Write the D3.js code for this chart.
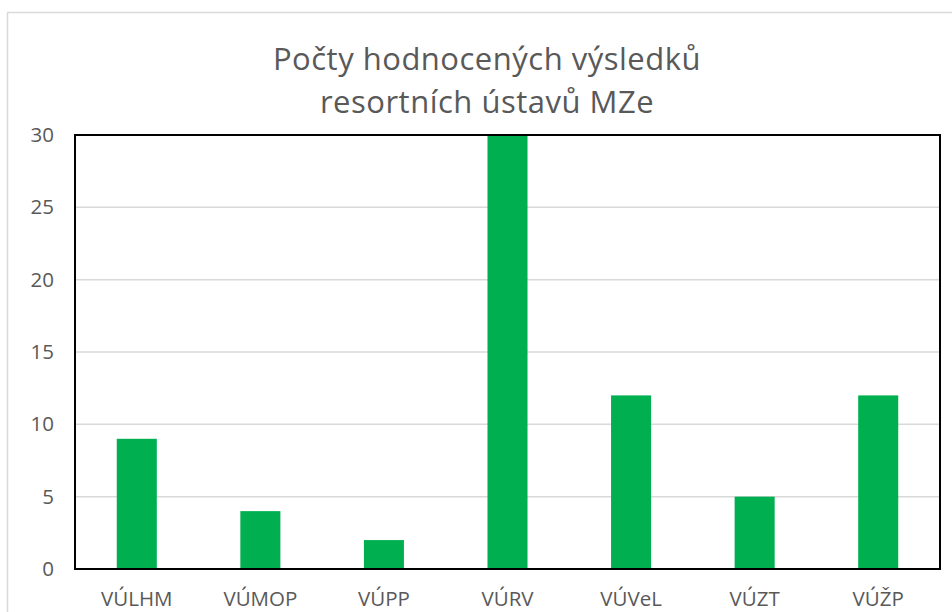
<!DOCTYPE html>
<html><head><meta charset="utf-8">
<script src="https://cdn.jsdelivr.net/npm/d3@7"></script>
<style>body{margin:0;background:#fff;} svg{display:block;} text{font-family:"Open Sans",sans-serif;}</style>
</head><body><svg id="c" width="952" height="612"></svg>
<script>
const categories = ["VÚLHM","VÚMOP","VÚPP","VÚRV","VÚVeL","VÚZT","VÚŽP"];
const values = [9,4,2,30,12,5,12];
const yTicks = [0,5,10,15,20,25,30];
const titleLines = ["Počty hodnocených výsledků","resortních ústavů MZe"];

const svg = d3.select("#c");
const W=952,H=612;
svg.append("rect").attr("x",0).attr("y",0).attr("width",W).attr("height",H).attr("fill","#fff");
// outer chart border
svg.append("rect").attr("x",7.5).attr("y",12.5).attr("width",W+20).attr("height",H+20)
  .attr("fill","#fff").attr("stroke","#d9d9d9").attr("stroke-width",1.5);

const m={l:75,r:940,t:135,b:569};
const x=d3.scaleBand().domain(categories).range([m.l,m.r]).paddingInner(0.676).paddingOuter(0.338);
const y=d3.scaleLinear().domain([0,30]).range([m.b,m.t]);

// gridlines
svg.append("g").selectAll("line").data(yTicks).join("line")
  .attr("x1",m.l).attr("x2",m.r).attr("y1",d=>y(d)).attr("y2",d=>y(d))
  .attr("stroke","#d9d9d9").attr("stroke-width",1.5);

// bars
svg.append("g").selectAll("rect").data(values).join("rect")
  .attr("x",(d,i)=>x(categories[i])).attr("width",x.bandwidth())
  .attr("y",d=>y(d)).attr("height",d=>y(0)-y(d)).attr("fill","#00B050");

// plot border
svg.append("rect").attr("x",m.l).attr("y",m.t).attr("width",m.r-m.l).attr("height",m.b-m.t)
  .attr("fill","none").attr("stroke","#000").attr("stroke-width",2);

// y axis
const ya=d3.axisLeft(y).tickValues(yTicks).tickSize(0).tickPadding(21);
const gy=svg.append("g").attr("transform",`translate(${m.l},0)`).call(ya);
gy.select(".domain").remove();
gy.selectAll("text").attr("fill","#595959").style("font-size","20.5px").style("font-family","'Open Sans',sans-serif");

// x axis
const xa=d3.axisBottom(x).tickSize(0).tickPadding(24);
const gx=svg.append("g").attr("transform",`translate(0,${m.b})`).call(xa);
gx.select(".domain").remove();
gx.selectAll("text").attr("fill","#595959").attr("dy",0).style("font-size","20.5px").style("font-family","'Open Sans',sans-serif")
  .attr("y",37);

// title
svg.append("g").selectAll("text").data(titleLines).join("text")
  .attr("x",487).attr("y",(d,i)=>70+i*43).attr("text-anchor","middle")
  .attr("fill","#595959").style("font-size","31px").style("letter-spacing","0.5px").text(d=>d);
</script></body></html>
